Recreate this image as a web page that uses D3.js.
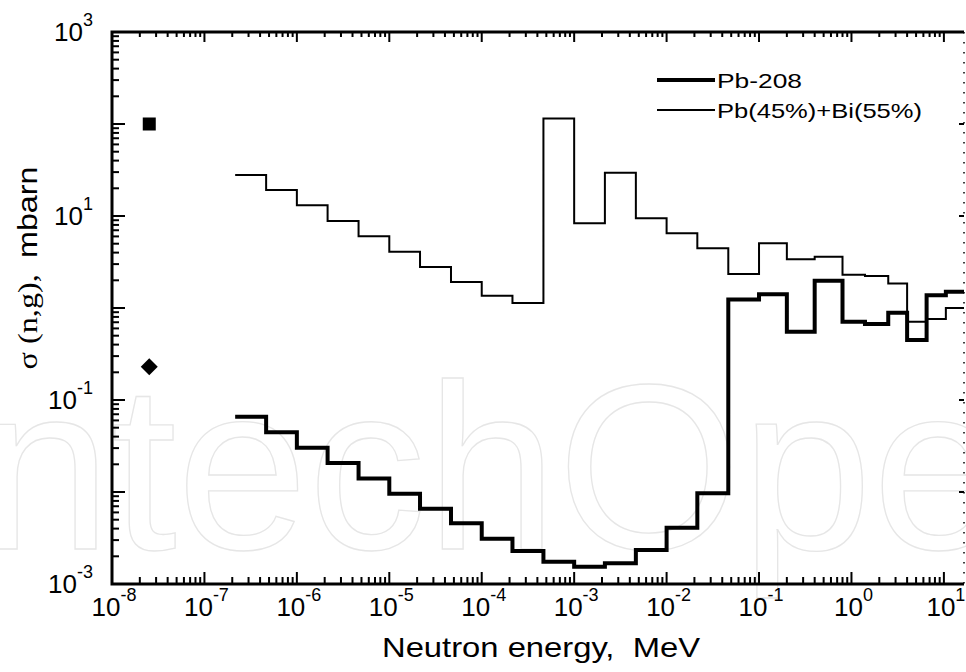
<!DOCTYPE html>
<html>
<head>
<meta charset="utf-8">
<script src="https://cdn.jsdelivr.net/npm/d3@7"></script>
<style>
  body { margin: 0; background: #fff; }
  svg { display: block; font-family: "Liberation Sans", Arial, sans-serif; }
</style>
</head>
<body>
<div id="chart"></div>
<script>
// BNAB-26 group boundaries, MeV (last one runs past the axis end)
const groupEdges = [2.15e-7, 4.65e-7, 1e-6, 2.15e-6, 4.65e-6, 1e-5, 2.15e-5, 4.65e-5, 1e-4,
  2.15e-4, 4.65e-4, 1e-3, 2.15e-3, 4.65e-3, 1e-2, 2.15e-2, 4.65e-2, 0.1, 0.2, 0.4, 0.8,
  1.4, 2.5, 4, 6.5, 10.5, 20];

// group cross sections, mbarn
const pbBi = [27.9, 19.2, 13.1, 8.83, 6.01, 4.09, 2.79, 1.92, 1.36, 1.13, 115, 8.32, 29.6,
  9.44, 6.49, 4.46, 2.34, 5.05, 3.38, 3.61, 2.30, 2.23, 1.85, 0.71, 0.76, 1.0];
const pb208 = [0.0659, 0.0446, 0.0303, 0.0207, 0.0140, 0.0096, 0.00659, 0.00458, 0.0031,
  0.00229, 0.00175, 0.00154, 0.00168, 0.00234, 0.00409, 0.0097, 1.24, 1.41, 0.552, 1.98,
  0.71, 0.67, 0.89, 0.449, 1.38, 1.50];

// thermal point values
const thermalE = 2.53e-8;
const thermalPbBi = 100;
const thermalPb208 = 0.23;

const xLabelExp = [-8, -7, -6, -5, -4, -3, -2, -1, 0, 1];
const yLabelExp = [3, 1, -1, -3];

const width = 966, height = 672;
const plot = { left: 112, right: 964, top: 32, bottom: 584 };

const svg = d3.select("#chart").append("svg")
  .attr("width", width)
  .attr("height", height);

const x = d3.scaleLog().domain([1e-8, 16.5]).range([plot.left, plot.right]);
const y = d3.scaleLog().domain([1e-3, 1e3]).range([plot.bottom, plot.top]);

// faint publisher watermark behind everything
svg.append("text")
  .attr("x", -20)
  .attr("y", 549)
  .attr("font-size", 236)
  .attr("fill", "none")
  .attr("stroke", "#e6e6e6")
  .attr("stroke-width", 1.3)
  .text("ntechOpen");

svg.append("clipPath").attr("id", "clip")
  .append("rect")
  .attr("x", plot.left).attr("y", plot.top)
  .attr("width", plot.right - plot.left).attr("height", plot.bottom - plot.top);

// step histogram: each group value held from its lower edge to the next
function stepPoints(vals) {
  const pts = vals.map((v, i) => [groupEdges[i], v]);
  pts.push([groupEdges[vals.length], vals[vals.length - 1]]);
  return pts;
}

const line = d3.line()
  .x(d => x(d[0]))
  .y(d => y(d[1]))
  .curve(d3.curveStepAfter);

const lines = svg.append("g").attr("clip-path", "url(#clip)");

lines.append("path")
  .datum(stepPoints(pbBi))
  .attr("d", line)
  .attr("fill", "none")
  .attr("stroke", "#000")
  .attr("stroke-width", 2);

lines.append("path")
  .datum(stepPoints(pb208))
  .attr("d", line)
  .attr("fill", "none")
  .attr("stroke", "#000")
  .attr("stroke-width", 4);

// thermal points
svg.append("rect")
  .attr("x", x(thermalE) - 6.5)
  .attr("y", y(thermalPbBi) - 6.5)
  .attr("width", 13)
  .attr("height", 13)
  .attr("fill", "#000");

const dx = 8.5, dy = 8.5;
const px = x(thermalE), py = y(thermalPb208);
svg.append("path")
  .attr("d", `M${px},${py - dy}L${px + dx},${py}L${px},${py + dy}L${px - dx},${py}Z`)
  .attr("fill", "#000");

// axes
const isMajor = d => Math.abs(Math.log10(d) - Math.round(Math.log10(d))) < 1e-6;
const xTicks = x.ticks(40).filter(d => d >= 1e-8 && d <= 16.5);
const yTicks = y.ticks(40);

const axes = svg.append("g").attr("stroke", "#000");

// bottom
axes.selectAll(".xb").data(xTicks).enter().append("line")
  .attr("x1", d => x(d)).attr("x2", d => x(d))
  .attr("y1", plot.bottom).attr("y2", d => plot.bottom - (isMajor(d) ? 12 : 7))
  .attr("stroke-width", 2);
// top
axes.selectAll(".xt").data(xTicks).enter().append("line")
  .attr("x1", d => x(d)).attr("x2", d => x(d))
  .attr("y1", plot.top).attr("y2", d => plot.top + (isMajor(d) ? 10 : 5))
  .attr("stroke-width", 2);
// left
axes.selectAll(".yl").data(yTicks).enter().append("line")
  .attr("x1", plot.left).attr("x2", d => plot.left + (isMajor(d) ? 13 : 7))
  .attr("y1", d => y(d)).attr("y2", d => y(d))
  .attr("stroke-width", 2);
// right: only decade ticks
axes.selectAll(".yr").data(yTicks.filter(isMajor)).enter().append("line")
  .attr("x1", plot.right).attr("x2", plot.right - 5)
  .attr("y1", d => y(d)).attr("y2", d => y(d))
  .attr("stroke-width", 2);

axes.append("path")
  .attr("d", `M${plot.right},${plot.top}H${plot.left}V${plot.bottom}H${plot.right}`)
  .attr("fill", "none")
  .attr("stroke-width", 3);
axes.append("line")
  .attr("x1", plot.right).attr("x2", plot.right)
  .attr("y1", plot.top).attr("y2", plot.bottom)
  .attr("stroke-width", 1.5)
  .attr("stroke-dasharray", "1.5,8.5");

// tick labels 10^n, base and exponent as separate texts
// anchorX: where the whole label is placed; mode "middle" or "end"
function powLabel(anchorX, baseY, exp, mode) {
  const base = svg.append("text")
    .attr("y", baseY)
    .attr("font-size", 26)
    .text("10");
  const sup = svg.append("text")
    .attr("y", baseY - 15)
    .attr("font-size", 18)
    .text(exp);
  const wb = base.node().getComputedTextLength();
  const ws = sup.node().getComputedTextLength();
  const left = mode === "middle" ? anchorX - (wb + ws) / 2 : anchorX - wb - ws;
  base.attr("x", left);
  sup.attr("x", left + wb);
}

xLabelExp.forEach(e => powLabel(x(Math.pow(10, e)) + 2, plot.bottom + 32, e, "middle"));
yLabelExp.forEach(e => powLabel(93, y(Math.pow(10, e)) + 9, e, "end"));

// axis titles
svg.append("text")
  .attr("x", 541)
  .attr("y", 657)
  .attr("font-size", 28)
  .attr("text-anchor", "middle")
  .attr("textLength", 318)
  .attr("lengthAdjust", "spacingAndGlyphs")
  .text("Neutron energy,\u00a0\u00a0MeV");

const yTitle = svg.append("text")
  .attr("transform", "translate(37,268) rotate(-90)")
  .attr("font-size", 28)
  .attr("text-anchor", "middle")
  .attr("textLength", 203)
  .attr("lengthAdjust", "spacingAndGlyphs");
yTitle.append("tspan")
  .attr("font-family", "'Liberation Serif', 'Times New Roman', serif")
  .text("\u03c3 (n,g),\u00a0\u00a0");
yTitle.append("tspan").text("mbarn");

// legend
const legend = [
  { label: "Pb-208", width: 4, y: 80, len: 85 },
  { label: "Pb(45%)+Bi(55%)", width: 2, y: 110, len: 205 }
];
legend.forEach(d => {
  svg.append("line")
    .attr("x1", 657).attr("x2", 715)
    .attr("y1", d.y).attr("y2", d.y)
    .attr("stroke", "#000")
    .attr("stroke-width", d.width);
  svg.append("text")
    .attr("x", 717)
    .attr("y", d.y + 8)
    .attr("font-size", 21)
    .attr("textLength", d.len)
    .attr("lengthAdjust", "spacingAndGlyphs")
    .text(d.label);
});
</script>
</body>
</html>
